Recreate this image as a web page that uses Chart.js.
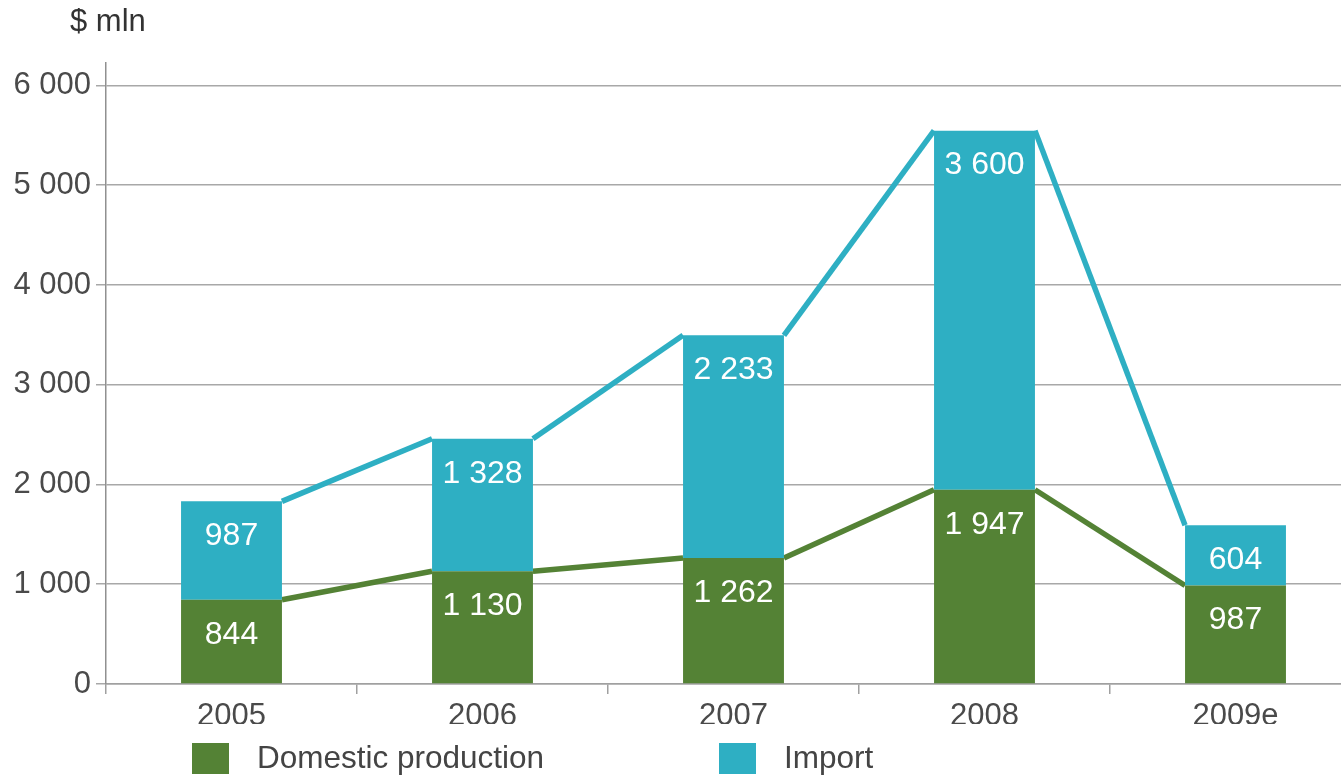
<!DOCTYPE html>
<html>
<head>
<meta charset="utf-8">
<script src="https://cdn.jsdelivr.net/npm/chart.js@4/dist/chart.umd.min.js"></script>
<style>
  html, body { margin: 0; padding: 0; background: #ffffff; overflow: hidden; }
  canvas { display: block; }
</style>
</head>
<body>
<canvas id="c" width="1361" height="778"></canvas>
<script>
const categories = ['2005', '2006', '2007', '2008', '2009e'];
const domestic = [844, 1130, 1262, 1947, 987];
const imports = [987, 1328, 2233, 3600, 604];
const yTicks = [0, 1000, 2000, 3000, 4000, 5000, 6000];
const seriesNames = ['Domestic production', 'Import'];
const unitLabel = '$ mln';

const GREEN = '#548235';
const TEAL = '#2eafc3';
const FONT = "'Liberation Sans', Arial, Helvetica, sans-serif";

function fmt(v) {
  return String(v).replace(/\B(?=(\d{3})+(?!\d))/g, ' ');
}

const seriesLines = {
  id: 'seriesLines',
  beforeDatasetsDraw(chart) {
    const ctx = chart.ctx;
    ctx.save();
    chart.data.datasets.forEach((ds, di) => {
      const meta = chart.getDatasetMeta(di);
      ctx.strokeStyle = ds.backgroundColor;
      ctx.lineWidth = 5.5;
      ctx.lineCap = 'butt';
      for (let i = 0; i < meta.data.length - 1; i++) {
        const a = meta.data[i], b = meta.data[i + 1];
        ctx.beginPath();
        ctx.moveTo(a.x + a.width / 2, a.y);
        ctx.lineTo(b.x - b.width / 2, b.y);
        ctx.stroke();
      }
    });
    ctx.restore();
  }
};

const valueLabels = {
  id: 'valueLabels',
  afterDatasetsDraw(chart) {
    const ctx = chart.ctx;
    ctx.save();
    ctx.font = '32px ' + FONT;
    ctx.fillStyle = '#ffffff';
    ctx.textAlign = 'center';
    ctx.textBaseline = 'middle';
    chart.data.datasets.forEach((ds, di) => {
      const meta = chart.getDatasetMeta(di);
      meta.data.forEach((bar, i) => {
        ctx.fillText(fmt(ds.data[i]), bar.x, bar.y + 35);
      });
    });
    ctx.restore();
  }
};

const extras = {
  id: 'extras',
  afterDraw(chart) {
    const ctx = chart.ctx;
    ctx.save();
    ctx.font = '31px ' + FONT;
    ctx.fillStyle = '#333333';
    ctx.textAlign = 'left';
    ctx.textBaseline = 'middle';
    ctx.fillText(unitLabel, 70, 22);
    const starts = [192, 719];
    chart.data.datasets.forEach((ds, di) => {
      const x = starts[di];
      ctx.fillStyle = ds.backgroundColor;
      ctx.fillRect(x, 743, 37, 31);
      ctx.fillStyle = '#444444';
      ctx.font = '31.5px ' + FONT;
      ctx.fillText(ds.label, x + 65, 759);
    });
    ctx.restore();
  }
};

new Chart(document.getElementById('c'), {
  type: 'bar',
  data: {
    labels: categories,
    datasets: [
      { label: seriesNames[0], data: domestic, backgroundColor: GREEN, borderWidth: 0 },
      { label: seriesNames[1], data: imports, backgroundColor: TEAL, borderWidth: 0 }
    ]
  },
  options: {
    responsive: false,
    animation: false,
    devicePixelRatio: 1,
    layout: { padding: { top: 63, left: 0, right: 0, bottom: 54 } },
    datasets: { bar: { categoryPercentage: 0.402, barPercentage: 1 } },
    plugins: {
      legend: { display: false },
      tooltip: { enabled: false },
      title: { display: false }
    },
    scales: {
      x: {
        stacked: true,
        offset: true,
        grid: { offset: true, drawOnChartArea: false, drawTicks: true, tickLength: 10, color: '#a0a0a0', lineWidth: 1.5 },
        border: { display: true, color: '#a0a0a0', width: 1.5 },
        ticks: { font: { size: 31, family: FONT }, color: '#4a4a4a', padding: 4 },
        afterFit(s) { s.height = 40; }
      },
      y: {
        stacked: true,
        min: 0,
        max: 6225,
        afterBuildTicks(s) { s.ticks = yTicks.map(v => ({ value: v })); },
        ticks: {
          font: { size: 31, family: FONT },
          color: '#4a4a4a',
          padding: 5,
          callback: (v) => fmt(v)
        },
        grid: { color: '#a8a8a8', lineWidth: 1.5, tickLength: 10 },
        border: { display: true, color: '#909090', width: 1.5 },
        afterFit(s) { s.width = 106; }
      }
    }
  },
  plugins: [seriesLines, valueLabels, extras]
});
</script>
</body>
</html>
